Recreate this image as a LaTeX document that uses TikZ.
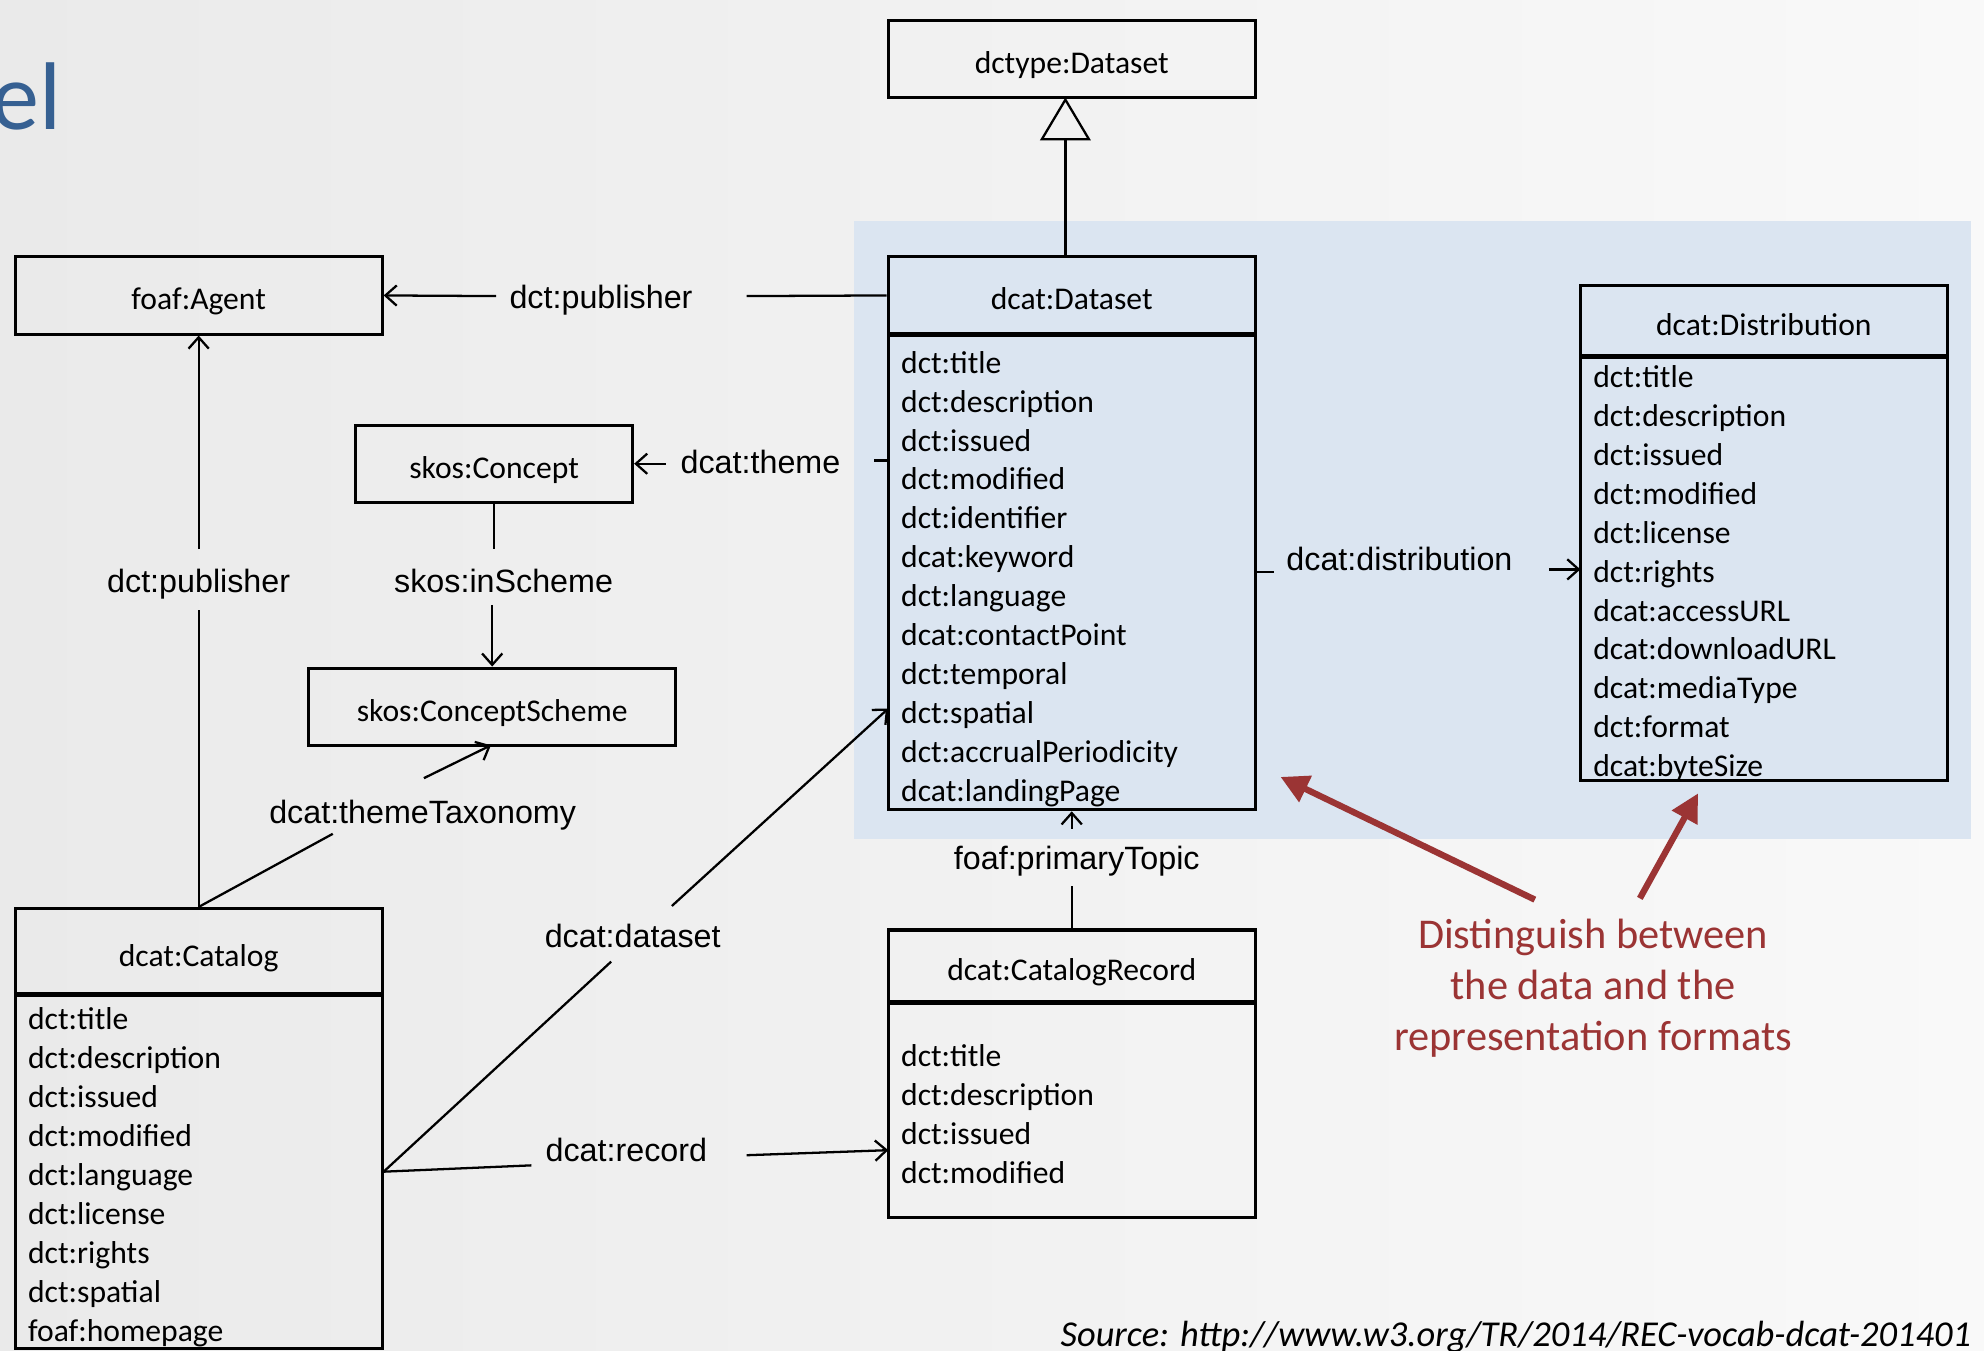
\documentclass[tikz,border=0pt]{standalone}
\usepackage{fontspec}
\setmainfont{Carlito}
\newfontfamily\arialf{Liberation Sans}
\usetikzlibrary{arrows.meta}
\definecolor{bluebg}{RGB}{219,229,241}
\definecolor{titleblue}{RGB}{54,96,146}
\definecolor{darkred}{RGB}{155,52,52}
\definecolor{bgleft}{RGB}{234,234,234}
\definecolor{bgright}{RGB}{249,249,249}
\newcommand{\bxfont}{\fontsize{25}{30}\selectfont}
\newcommand{\lbfont}{\arialf\fontsize{25.5}{30}\selectfont}
\tikzset{
  box/.style={draw, line width=2.4pt, minimum width=290pt, inner sep=0pt, font=\bxfont, text height=23pt, text depth=0pt},
  bodybox/.style={draw, line width=2.4pt, minimum width=290pt, inner sep=0pt},
  item/.style={anchor=base west, inner sep=0pt, font=\bxfont},
  lbl/.style={font=\lbfont, inner sep=0pt, text height=20pt, text depth=0pt},
  conn/.style={line width=1.8pt},
  arr/.style={conn, -{Straight Barb[length=9pt,width=16pt,line width=1.8pt]}},
  gen/.style={conn, -{Triangle[open, length=34pt, width=40pt, line width=1.8pt]}},
  redarr/.style={draw=darkred, line width=5pt, -{Triangle[length=22pt,width=22pt]}},
  divider/.style={line width=4pt},
}
\begin{document}
\begin{tikzpicture}[x=1pt,y=-1pt]
\useasboundingbox (0,0) rectangle (1568,1067);
\shade[left color=bgleft, right color=bgright] (0,0) rectangle (1568,1067);
\fill[bluebg] (675,175) rectangle (1558,663);

% title fragment
\node[anchor=base east, inner sep=0pt, text=titleblue, font=\fontsize{76}{80}\selectfont] (title) at (49,102) {el};

% dctype:Dataset
\node[box, minimum height=61pt] (dctype) at (847,46.5) {dctype:Dataset};

% dcat:Dataset
\node[box, minimum height=61pt] (ds) at (847,233.5) {dcat:Dataset};
\node[bodybox, minimum height=376pt] (dsb) at (847,452) {};
\draw[divider] (702,264) -- (992,264);
\foreach \t [count=\i from 0] in {dct:title,dct:description,dct:issued,dct:modified,dct:identifier,dcat:keyword,dct:language,dcat:contactPoint,dct:temporal,dct:spatial,dct:accrualPeriodicity,dcat:landingPage}
  \node[item] (dsi\i) at (712,{295+30.75*\i}) {\t};

% dcat:Distribution
\node[box, minimum height=56pt] (dist) at (1394,254) {dcat:Distribution};
\node[bodybox, minimum height=335pt] (distb) at (1394,449.5) {};
\draw[divider] (1249,282) -- (1539,282);
\foreach \t [count=\i from 0] in {dct:title,dct:description,dct:issued,dct:modified,dct:license,dct:rights,dcat:accessURL,dcat:downloadURL,dcat:mediaType,dct:format,dcat:byteSize}
  \node[item] (disti\i) at (1259,{306+30.8*\i}) {\t};

% foaf:Agent
\node[box, minimum height=61pt] (agent) at (157,233.5) {foaf:Agent};
% skos:Concept
\node[box, minimum width=219pt, minimum height=61pt] (concept) at (390.5,366.5) {skos:Concept};
% skos:ConceptScheme
\node[box, minimum height=61pt] (scheme) at (389,558.5) {skos:ConceptScheme};

% dcat:Catalog
\node[box, minimum height=68pt] (cat) at (157,752) {dcat:Catalog};
\node[bodybox, minimum height=280pt] (catb) at (157,926) {};
\draw[divider] (12,786) -- (302,786);
\foreach \t [count=\i from 0] in {dct:title,dct:description,dct:issued,dct:modified,dct:language,dct:license,dct:rights,dct:spatial,foaf:homepage}
  \node[item] (cati\i) at (22,{814+30.75*\i}) {\t};

% dcat:CatalogRecord
\node[box, minimum height=57pt] (rec) at (847,763.5) {dcat:CatalogRecord};
\node[bodybox, minimum height=170pt] (recb) at (847,877) {};
\draw[divider] (702,792) -- (992,792);
\foreach \t [count=\i from 0] in {dct:title,dct:description,dct:issued,dct:modified}
  \node[item] (reci\i) at (712,{843+30.7*\i}) {\t};

% labels
\node[lbl] (lpub) at (475,234) {dct:publisher};
\node[lbl] (ltheme) at (601,364) {dcat:theme};
\node[lbl] (lscheme) at (398,458) {skos:inScheme};
\node[lbl] (lpubv) at (157,458) {dct:publisher};
\node[lbl] (ltax) at (334,641) {dcat:themeTaxonomy};
\node[lbl] (ldataset) at (500,739) {dcat:dataset};
\node[lbl] (lrecord) at (495,908) {dcat:record};
\node[lbl] (lprim) at (851,677) {foaf:primaryTopic};
\node[lbl] (ldist) at (1106,441) {dcat:distribution};

% free ends
\coordinate (pubA) at (590,234);
\coordinate (pubB) at (392,234);
\coordinate (thA) at (702,364);
\coordinate (thB) at (691,364);
\coordinate (thC) at (526,366.5);
\coordinate (schA) at (390.5,434);
\coordinate (schB) at (389,478);
\coordinate (pvA) at (157,482);
\coordinate (pvB) at (157,434);
\coordinate (taxA) at (263,659);
\coordinate (taxB) at (335,615);
\coordinate (taxC) at (388,589);
\coordinate (dsA) at (483,760);
\coordinate (dsB) at (531,716);
\coordinate (dsC) at (702,560);
\coordinate (recA) at (420,921);
\coordinate (recB) at (590,913);
\coordinate (recC) at (702,909);
\coordinate (prA) at (847,700);
\coordinate (prB) at (847,655);
\coordinate (diA) at (1007,452);
\coordinate (diB) at (1224,450);
\coordinate (diC) at (1249,450);
\coordinate (genA) at (842,203);
\coordinate (genB) at (842,77);

% connectors
\draw[gen] (genA) -- (genB);
\draw[conn] (ds.west) -- (pubA);
\draw[arr] (pubB) -- (agent.east);
\draw[conn] (thA) -- (thB);
\draw[arr] (thC) -- (concept.east);
\draw[conn] (concept.south) -- (schA);
\draw[arr] (schB) -- (scheme.north);
\draw[conn] (cat.north) -- (pvA);
\draw[arr] (pvB) -- (agent.south);
\draw[conn] (cat.north) -- (taxA);
\draw[arr] (taxB) -- (taxC);
\draw[conn] (catb.east) -- (dsA);
\draw[arr] (dsB) -- (dsC);
\draw[conn] (catb.east) -- (recA);
\draw[arr] (recB) -- (recC);
\draw[conn] (rec.north) -- (prA);
\draw[arr] (prB) -- (dsb.south);
\draw[conn] (dsb.east) -- (diA);
\draw[arr] (diB) -- (diC);

% red annotation
\node[text=darkred, align=center, inner sep=0pt, font=\fontsize{33.5}{40}\selectfont] (note) at (1259,781) {Distinguish between\\the data and the\\representation formats};
\coordinate (rA) at (1213,711);
\coordinate (rB) at (1012,614);
\coordinate (rC) at (1296,710);
\coordinate (rD) at (1342,627);
\draw[redarr] (rA) -- (rB);
\draw[redarr] (rC) -- (rD);

% source
\node[anchor=base west, inner sep=0pt, font=\itshape\fontsize{28.8}{32}\selectfont] (src) at (838,1064) {Source: http://www.w3.org/TR/2014/REC-vocab-dcat-201401};
\end{tikzpicture}
\end{document}
